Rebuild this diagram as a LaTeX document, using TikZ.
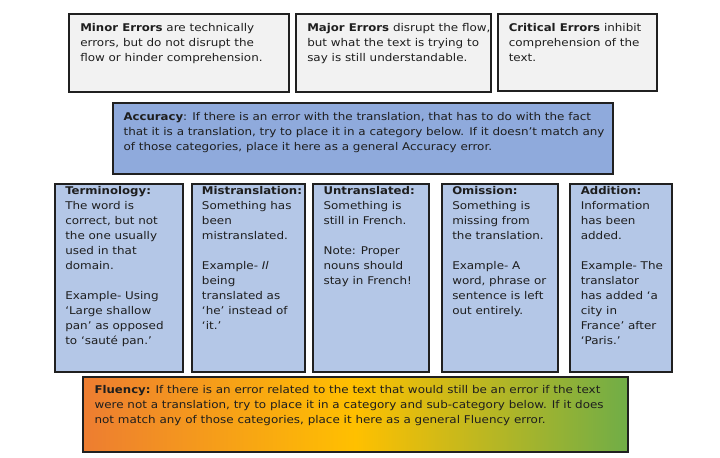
\documentclass[tikz,border=0pt]{standalone}
\usepackage{fontspec}
\setmainfont[FakeStretch=1.12, BoldFeatures={FakeStretch=1.1}, ItalicFeatures={FakeStretch=1.12}]{DejaVu Sans}
\usetikzlibrary{fit}
\definecolor{bordercol}{HTML}{202020}
\definecolor{textcol}{HTML}{1E1E1E}
\definecolor{greyfill}{HTML}{F2F2F2}
\definecolor{accfill}{HTML}{8FAADC}
\definecolor{catfill}{HTML}{B4C7E7}
\definecolor{orangeA}{HTML}{ED7D31}
\definecolor{yellowA}{HTML}{FFC000}
\definecolor{greenA}{HTML}{70AD47}
\newcommand{\blk}[1]{\vtop{\hsize=12cm\parindent=0pt\parskip=0pt\baselineskip=11.25pt\lineskiplimit=-20pt\lineskip=0pt #1}}
\newcommand{\tline}[1]{\mbox{#1}\par}
\newcommand{\emptyln}{\mbox{}\par}
\tikzset{
  box/.style={draw=bordercol, line width=1.5pt, inner sep=0pt},
  topbox/.style={box, fill=greyfill},
  accbox/.style={box, fill=accfill},
  catbox/.style={box, fill=catfill},
  flubox/.style={box, left color=orangeA, right color=greenA, middle color=yellowA},
  txt/.style={anchor=base west, inner sep=0pt, text=textcol, font=\fontsize{8pt}{11.25pt}\selectfont}
}
\begin{document}
\begin{tikzpicture}[x=0.75pt, y=-0.75pt]
\useasboundingbox (0,0) rectangle (720,457);
% top boxes
\node[topbox, fit={(69,14) (289,92)}] (minor) {};
\node[topbox, fit={(296,14) (491,92)}] (major) {};
\node[topbox, fit={(498,14) (657,91)}] (critical) {};
% accuracy
\node[accbox, fit={(113,102.5) (613,174)}] (accuracy) {};
% categories
\node[catbox, fit={(55,184) (183,371.5)}] (term) {};
\node[catbox, fit={(191.5,184) (305,371.5)}] (mistr) {};
\node[catbox, fit={(312.7,184) (429.3,371.5)}] (untr) {};
\node[catbox, fit={(441.5,184) (558,371.5)}] (omis) {};
\node[catbox, fit={(570,184) (672,371.5)}] (addi) {};
% fluency
\node[flubox, fit={(83.3,376.7) (628,452)}] (fluency) {};

% texts
\node[txt] (tminor) at (80,31) {\blk{%
\tline{\textbf{Minor Errors} are technically}
\tline{errors, but do not disrupt the}
\tline{flow or hinder comprehension.}}};
\node[txt] (tmajor) at (307,31) {\blk{%
\tline{\textbf{Major Errors} disrupt the flow,}
\tline{but what the text is trying to}
\tline{say is still understandable.}}};
\node[txt] (tcritical) at (508.5,31) {\blk{%
\tline{\textbf{Critical Errors} inhibit}
\tline{comprehension of the}
\tline{text.}}};
\node[txt] (taccuracy) at (123.3,120.7) {\blk{%
\tline{\textbf{Accuracy}: If there is an error with the translation, that has to do with the fact}
\tline{that it is a translation, try to place it in a category below. If it doesn’t match any}
\tline{of those categories, place it here as a general Accuracy error.}}};
\node[txt] (tterm) at (65,194.3) {\blk{%
\tline{\textbf{Terminology:}}
\tline{The word is}
\tline{correct, but not}
\tline{the one usually}
\tline{used in that}
\tline{domain.}
\emptyln
\tline{Example- Using}
\tline{‘Large shallow}
\tline{pan’ as opposed}
\tline{to ‘sauté pan.’}}};
\node[txt] (tmistr) at (201.7,194.3) {\blk{%
\tline{\textbf{Mistranslation:}}
\tline{Something has}
\tline{been}
\tline{mistranslated.}
\emptyln
\tline{Example- \textit{Il}}
\tline{being}
\tline{translated as}
\tline{‘he’ instead of}
\tline{‘it.’}}};
\node[txt] (tuntr) at (323.3,194.3) {\blk{%
\tline{\textbf{Untranslated:}}
\tline{Something is}
\tline{still in French.}
\emptyln
\tline{Note: Proper}
\tline{nouns should}
\tline{stay in French!}}};
\node[txt] (tomis) at (452,194.3) {\blk{%
\tline{\textbf{Omission:}}
\tline{Something is}
\tline{missing from}
\tline{the translation.}
\emptyln
\tline{Example- A}
\tline{word, phrase or}
\tline{sentence is left}
\tline{out entirely.}}};
\node[txt] (taddi) at (580.5,194.3) {\blk{%
\tline{\textbf{Addition:}}
\tline{Information}
\tline{has been}
\tline{added.}
\emptyln
\tline{Example- The}
\tline{translator}
\tline{has added ‘a}
\tline{city in}
\tline{France’ after}
\tline{‘Paris.’}}};
\node[txt] (tfluency) at (94.3,393.3) {\blk{%
\tline{\textbf{Fluency:} If there is an error related to the text that would still be an error if the text}
\tline{were not a translation, try to place it in a category and sub-category below. If it does}
\tline{not match any of those categories, place it here as a general Fluency error.}}};
\end{tikzpicture}
\end{document}
